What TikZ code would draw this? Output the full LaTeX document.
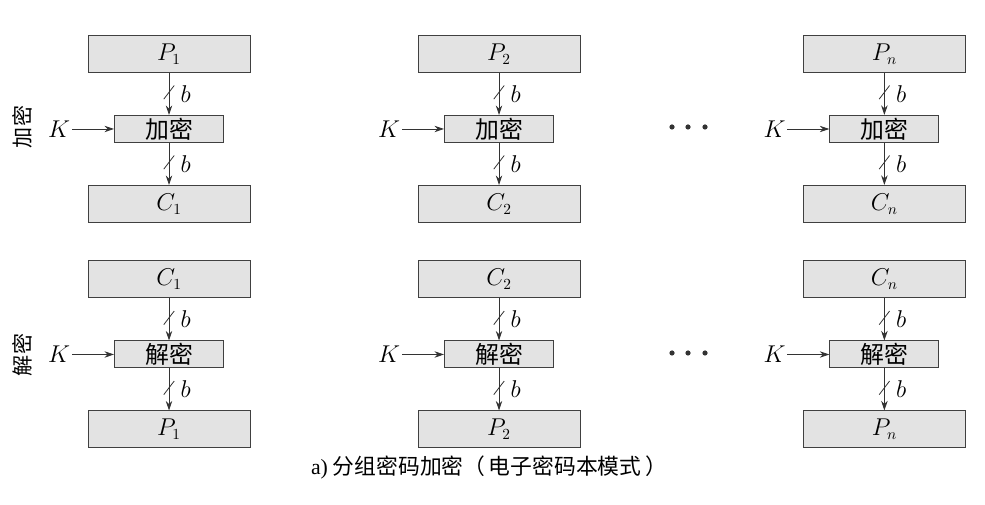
\documentclass[tikz,border=0pt]{standalone}
\usepackage{fontspec}
\setmainfont{Liberation Serif}
\newfontfamily\cjk{Noto Sans CJK SC}
\usetikzlibrary{arrows.meta}
\usetikzlibrary{positioning}
\usetikzlibrary{decorations.markings}

\tikzset{
  blockbox/.style={draw=black!75, fill=gray!22, line width=0.25mm, minimum width=4.05cm, minimum height=0.925cm, inner sep=0pt, font=\fontsize{16pt}{16pt}\selectfont},
  cipherbox/.style={blockbox, minimum width=2.725cm, minimum height=0.675cm, font=\cjk\fontsize{17pt}{17pt}\selectfont},
  flow/.style={draw=black!80, line width=0.2mm, -{Stealth[length=2.4mm,width=1.6mm]}},
  busflow/.style={flow, postaction={decorate}, decoration={markings, mark=at position 0.46 with {\draw[-, line width=0.2mm] (0.17,-0.13) -- (-0.17,0.13);}}},
  bitlabel/.style={right, xshift=7pt, inner sep=1pt, font=\fontsize{16pt}{16pt}\selectfont},
  keylabel/.style={inner sep=1pt, font=\fontsize{16pt}{16pt}\selectfont},
  sidelabel/.style={rotate=90, font=\cjk\fontsize{15pt}{15pt}\selectfont},
}

\begin{document}
\begin{tikzpicture}[line width=0.2mm]
	\def\ytop{11.275}   % encryption row
	\def\ybot{5.6375}   % decryption row
	\def\gap{1.05cm}    % box to box

\useasboundingbox (0,0) rectangle (24.625,12.625);

\foreach \i/\x/\s in {1/4.225/1, 2/12.475/2, 3/22.11/n} {
	% encryption
	\node[blockbox] (p\i) at (\x,\ytop) {$P_{\s}$};
	\node[cipherbox, below=\gap of p\i] (e\i) {加密};
	\node[blockbox, below=\gap of e\i] (c\i) {$C_{\s}$};
	\node[keylabel, left=1.05cm of e\i] (k\i) {$K$};
	\draw[busflow] (p\i) -- (e\i) node[bitlabel, midway] (pb\i) {$b$};
	\draw[busflow] (e\i) -- (c\i) node[bitlabel, midway] (cb\i) {$b$};
	\draw[flow] (k\i) -- (e\i);

	% decryption
	\node[blockbox] (cc\i) at (\x,\ybot) {$C_{\s}$};
	\node[cipherbox, below=\gap of cc\i] (d\i) {解密};
	\node[blockbox, below=\gap of d\i] (pp\i) {$P_{\s}$};
	\node[keylabel, left=1.05cm of d\i] (kk\i) {$K$};
	\draw[busflow] (cc\i) -- (d\i) node[bitlabel, midway] (ccb\i) {$b$};
	\draw[busflow] (d\i) -- (pp\i) node[bitlabel, midway] (ppb\i) {$b$};
	\draw[flow] (kk\i) -- (d\i);
}

% dots
\foreach \d in {16.8,17.2,17.625} {
	\fill[black!80] (\d,9.45) circle (0.065);
	\fill[black!80] (\d,3.8) circle (0.065);
}

\node[sidelabel] (enclabel) at (0.55,9.45) {加密};
\node[sidelabel] (declabel) at (0.55,3.75) {解密};

\node[font=\cjk\fontsize{15.5pt}{15.5pt}\selectfont] (caption) at (12.225,0.95) {{\rmfamily a)} 分组密码加密（\,电子密码本模式\,）};

\end{tikzpicture}
\end{document}
